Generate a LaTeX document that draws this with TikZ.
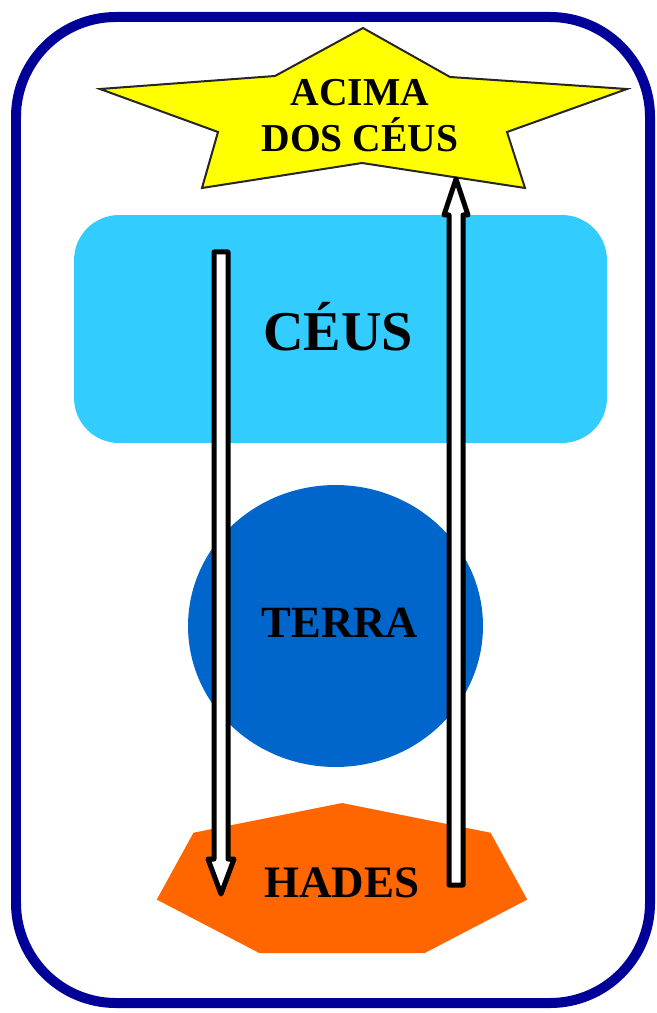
\documentclass[tikz,border=0pt]{standalone}
\usepackage{fontspec}
\setmainfont{Liberation Serif}
\usetikzlibrary{calc,shapes.geometric}
\definecolor{moldura}{RGB}{0,0,153}
\definecolor{ceuazul}{RGB}{51,204,255}
\definecolor{terraazul}{RGB}{0,102,204}
\definecolor{hadeslaranja}{RGB}{255,102,0}
\definecolor{estrela}{RGB}{255,255,0}
\tikzset{
  rotulo/.style={anchor=base, inner sep=0pt},
  seta/.style={draw=black, fill=white, line width=0.1cm, line join=round},
}
\begin{document}
\begin{tikzpicture}[x=0.02cm,y=-0.02cm]
        \useasboundingbox(0,0)rectangle(656,1013);
        % moldura
        \draw[moldura,line width=0.2cm,rounded corners=2cm](16,17)rectangle(650,1003);
        % ceus
        \node[fill=ceuazul,rounded corners=0.9cm,minimum width=10.66cm,minimum height=4.56cm,inner sep=0pt](ceus)at(340.5,329){};
        % terra
        \node[ellipse,fill=terraazul,minimum width=5.9cm,minimum height=5.64cm,inner sep=0pt](terra)at(335.5,626){};
        % hades
        \coordinate(hc)at(342,882);
        \fill[hadeslaranja,shift={(hc)}](270:190 and 79)
            foreach \k in {1,...,6}{--(270+\k*360/7:190 and 79)}--cycle;
        % estrela
        \filldraw[fill=estrela,draw=black!85,line width=0.04cm]
            (363,28)--(450,77)--(627,89)--(507,132)--(525,188)
            --(362,163)--(202,188)--(218,132)--(100,89)--(275,76)--cycle;
        % textos
        \node[anchor=center,inner sep=0pt,align=center,font=\bfseries\fontsize{22.5}{26.2}\selectfont](acima)at(360,116){ACIMA\\DOS CÉUS};
        \node[rotulo,font=\bfseries\fontsize{32}{38}\selectfont](ceustxt)at(338,350){CÉUS};
        \node[rotulo,font=\bfseries\fontsize{25.4}{30}\selectfont](terratxt)at(340,637){TERRA};
        \node[rotulo,font=\bfseries\fontsize{25.6}{30}\selectfont](hadestxt)at(342,897){HADES};
        % setas
        \coordinate(d1)at(221,252);
        \coordinate(d2)at(221,894);
        \coordinate(u1)at(456,885);
        \coordinate(u2)at(456,179);
        \draw[seta]($(d1)+(-7,0)$)--($(d2)+(-7,-35)$)--($(d2)+(-13,-35)$)--(d2)
            --($(d2)+(13,-35)$)--($(d2)+(7,-35)$)--($(d1)+(7,0)$)--cycle;
        \draw[seta]($(u1)+(-7,0)$)--($(u2)+(-7,36)$)--($(u2)+(-12,36)$)--(u2)
            --($(u2)+(12,36)$)--($(u2)+(7,36)$)--($(u1)+(7,0)$)--cycle;
\end{tikzpicture}
\end{document}
